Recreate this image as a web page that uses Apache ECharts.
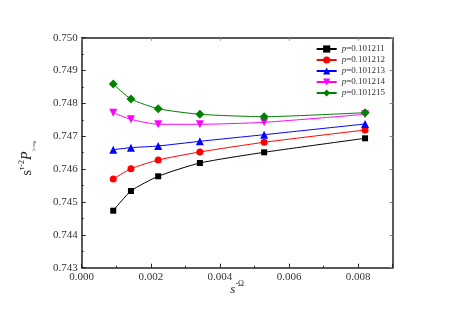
<!DOCTYPE html>
<html>
<head>
<meta charset="utf-8">
<script src="https://cdn.jsdelivr.net/npm/echarts@6/dist/echarts.min.js"></script>
<style>html,body{margin:0;padding:0;background:#fff}#c{width:457px;height:323px}</style>
</head>
<body>
<div id="c"></div>
<script>
const xValues = [0.000913, 0.001425, 0.002214, 0.00342, 0.00528, 0.0082];
const seriesNames = ['0.101211', '0.101212', '0.101213', '0.101214', '0.101215'];
const sBlack = [0.744735, 0.745335, 0.745782, 0.746187, 0.746512, 0.746938];
const sRed = [0.745700, 0.746013, 0.746278, 0.746522, 0.746817, 0.747191];
const sBlue = [0.746592, 0.746653, 0.746704, 0.746847, 0.747048, 0.747374];
const sMagenta = [0.747718, 0.747517, 0.747365, 0.747365, 0.747425, 0.747669];
const sGreen = [0.748591, 0.748135, 0.747839, 0.747669, 0.747596, 0.747718];
const xTickLabels = ['0.000', '0.002', '0.004', '0.006', '0.008'];

const FONT = 'Liberation Serif';
const allY = [sBlack, sRed, sBlue, sMagenta, sGreen];
const colors = ['#000000', '#ff0000', '#0000ff', '#ff00ff', '#008000'];
const symbols = ['rect', 'circle', 'triangle', 'triangle', 'diamond'];
const sizes = [6, 7, 8, 8, 9];
const rotates = [0, 0, 0, 180, 0];

const series = allY.map((ys, i) => ({
  name: seriesNames[i],
  type: 'line',
  xAxisIndex: 0, yAxisIndex: 0,
  data: xValues.map((x, j) => [x, ys[j]]),
  smooth: 0.2,
  symbol: symbols[i],
  symbolSize: sizes[i],
  symbolRotate: rotates[i],
  showAllSymbol: true,
  lineStyle: { color: colors[i], width: 1 },
  itemStyle: { color: colors[i] },
  emphasis: { disabled: true },
  z: 3 + i
}));

const axisLineStyle = { color: '#222', width: 1.5 };
const chart = echarts.init(document.getElementById('c'), null, { renderer: 'canvas' });
chart.setOption({
  animation: false,
  backgroundColor: '#fff',
  grid: { left: 81.7, right: 64.3, top: 37.7, bottom: 55.3, containLabel: false },
  legend: {
    orient: 'vertical',
    right: 72,
    top: 43.5,
    padding: 0,
    itemWidth: 20,
    itemHeight: 9,
    itemGap: 0,
    textStyle: {
      fontFamily: FONT, fontSize: 9, color: '#333', lineHeight: 11,
      rich: { i: { fontFamily: FONT, fontSize: 9, fontStyle: 'italic', color: '#333', lineHeight: 11 } }
    },
    formatter: n => '{i|p}=' + n,
    data: seriesNames
  },
  xAxis: [{
    type: 'value', min: 0, max: 0.009, interval: 0.002, position: 'bottom',
    axisLine: { show: true, onZero: false, lineStyle: axisLineStyle },
    axisTick: { show: true, inside: true, length: 4, lineStyle: { color: '#222' } },
    minorTick: { show: true, splitNumber: 2, length: 2, lineStyle: { color: '#222' } },
    splitLine: { show: false },
    axisLabel: { fontFamily: FONT, fontSize: 11, color: '#333', margin: 4,
      formatter: v => { const i = Math.round(v / 0.002); return Math.abs(v - i * 0.002) < 1e-9 ? xTickLabels[i] : ''; } },
    name: '{i|s}{sup|-Ω}',
    nameLocation: 'middle',
    nameGap: 12,
    nameMoveOverlap: false,
    nameTextStyle: { rich: {
      i: { fontFamily: FONT, fontSize: 13, fontStyle: 'italic', color: '#222', lineHeight: 16, verticalAlign: 'bottom' },
      sup: { fontFamily: FONT, fontSize: 8, color: '#222', lineHeight: 16, verticalAlign: 'top' }
    } }
  }, {
    type: 'value', min: 0, max: 0.009, interval: 0.002, position: 'top',
    axisLine: { show: true, onZero: false, lineStyle: axisLineStyle },
    axisTick: { show: true, inside: true, length: 3, lineStyle: { color: '#888' } },
    axisLabel: { show: false }, splitLine: { show: false }
  }],
  yAxis: [{
    type: 'value', min: 0.743, max: 0.750, interval: 0.001, position: 'left',
    axisLine: { show: true, onZero: false, lineStyle: axisLineStyle },
    axisTick: { show: true, inside: true, length: 4, lineStyle: { color: '#222' } },
    minorTick: { show: true, splitNumber: 2, length: 2, lineStyle: { color: '#222' } },
    splitLine: { show: false },
    axisLabel: { fontFamily: FONT, fontSize: 11, color: '#333', margin: 4, formatter: v => v.toFixed(3) },
    name: '{s|s}{sup|τ-2}{i|P}{sub|>=s}',
    nameLocation: 'middle',
    nameGap: 44,
    nameRotate: 90,
    nameMoveOverlap: false,
    nameTextStyle: { padding: [0, 11, 0, 0], rich: {
      s: { fontFamily: FONT, fontSize: 14, color: '#222', lineHeight: 20, verticalAlign: 'middle' },
      i: { fontFamily: FONT, fontSize: 14, fontStyle: 'italic', color: '#222', lineHeight: 20, verticalAlign: 'middle' },
      sup: { fontFamily: FONT, fontSize: 8, color: '#222', lineHeight: 20, verticalAlign: 'top' },
      sub: { fontFamily: FONT, fontSize: 7, color: '#222', lineHeight: 20, verticalAlign: 'bottom' }
    } }
  }, {
    type: 'value', min: 0.743, max: 0.750, interval: 0.001, position: 'right',
    axisLine: { show: true, onZero: false, lineStyle: axisLineStyle },
    axisTick: { show: true, inside: true, length: 3, lineStyle: { color: '#888' } },
    axisLabel: { show: false }, splitLine: { show: false }
  }],
  series: series
});
</script>
</body>
</html>
